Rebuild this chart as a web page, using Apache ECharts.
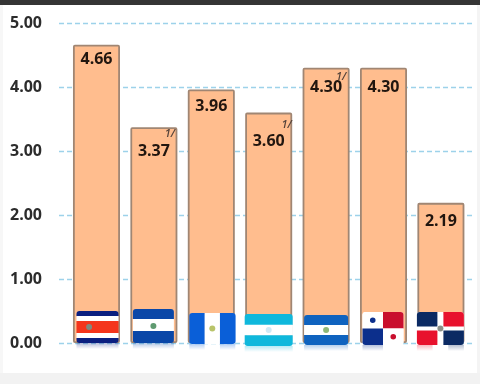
<!DOCTYPE html>
<html><head><meta charset="utf-8">
<style>
html,body{margin:0;padding:0;width:480px;height:384px;overflow:hidden;background:#fff}
#frameTop{position:absolute;left:0;top:0;width:480px;height:5px;background:#353535;z-index:3}
#frameBottom{position:absolute;left:0;top:373px;width:480px;height:11px;background:#f2f2f2;z-index:3}
#frameRight{position:absolute;left:477px;top:5px;width:3px;height:368px;background:#f4f4f4;z-index:3}
#frameLeft{position:absolute;left:0;top:5px;width:3px;height:368px;background:#f7f7f7;z-index:3}
#c{position:absolute;left:0;top:0;width:480px;height:384px;filter:blur(0.7px)}
</style>
<script src="https://cdn.jsdelivr.net/npm/echarts@6/dist/echarts.min.js"></script>
</head><body>
<div id="c"></div><div id="frameTop"></div><div id="frameBottom"></div><div id="frameRight"></div><div id="frameLeft"></div>
<script>
const countries = ['Costa Rica','El Salvador','Guatemala','Honduras','Nicaragua','Panamá','República Dominicana'];
const rates = [4.66,3.37,3.96,3.60,4.30,4.30,2.19];
const footnotes = ['','1/','','1/','1/','',''];
const yTicks = [0,1,2,3,4,5];

// label drop below the bar top, px
const labelDrop = [7,16,9,21,12,12,11];
// footnote offset from the bar top centre, px: [dx, dy]
const noteOffset = [[0,0],[16,7],[0,0],[18,12],[15,9],[0,0],[0,0]];
// flag geometry in px: [left offset from bar centre, width, top above baseline, bottom below baseline]
const flagBox = [[-20,42,32,0],[-21,41,34,0],[-22,46,30,1],[-24,48,29,3],[-22,44,28,2],[-21,41,31,2],[-24,47,31,2]];
const NAVY='#0b1f80',RED='#f4351c',BLUE='#0a47a8',ROY='#0a5fd8',CY='#0fb8dc',NB='#0f63bf',PB='#0c2f8c',PR='#c90f2e',DB='#0b2a63',DR='#e8112d',W='#ffffff';
const flags = [
 {h:[[NAVY,5],[W,5],[RED,12],[W,5],[NAVY,5]],e:'#7f8a7f',ex:0.3},
 {h:[[BLUE,10],[W,12],[BLUE,12]],e:'#5f9a70',ex:0.5},
 {v:[[ROY,1],[W,1],[ROY,1]],e:'#b9c46a',ex:0.5},
 {h:[[CY,1],[W,1],[CY,1]],e:'#cfe9f5',ex:0.5},
 {h:[[NB,1],[W,1],[NB,1]],e:'#8fb878',ex:0.5},
 {q:[W,PR,PB,W],s:[PB,PR]},
 {q:[DB,DR,DR,DB],cross:true,e:'#8a8f88',ex:0.5}
];

function rect(x,y,w,h,fill,r){return {type:'rect',shape:{x:x,y:y,width:w,height:h,r:r||0},style:{fill:fill}};}
const R=3;
function fade(c){return {type:'linear',x:0,y:0,x2:0,y2:1,colorStops:[{offset:0,color:c},{offset:1,color:'#ffffff'}]};}

function renderFlag(params,api){
  const i=api.value(0), base=api.coord([i,0]), b=flagBox[i], f=flags[i];
  const L=base[0]+b[0], W0=b[1], T=base[1]-b[2], H=b[2]+b[3];
  const kids=[];
  let bottomCols;
  if(f.h){
    const tot=f.h.reduce((a,s)=>a+s[1],0); let y=T;
    f.h.forEach((s,k)=>{
      const hh=H*s[1]/tot;
      const r=k===0?[R,R,0,0]:(k===f.h.length-1?[0,0,R,R]:0);
      kids.push(rect(L,y,W0,hh+(k===f.h.length-1?0:.3),s[0],r)); y+=hh;
    });
    bottomCols=[f.h[f.h.length-1][0]];
  } else if(f.v){
    const w=W0/3;
    f.v.forEach((s,k)=>kids.push(rect(L+k*w,T,w+.3,H,s[0],k===0?[R,0,0,R]:(k===2?[0,R,R,0]:0))));
    bottomCols=f.v.map(s=>s[0]);
  } else {
    const w=W0/2,hh=H/2;
    kids.push(rect(L,T,W0,H,W,R));
    if(f.cross){
      const g=3;
      kids.push(rect(L,T,w-g,hh-2,f.q[0],[R,0,0,0]),rect(L+w+g,T,w-g,hh-2,f.q[1],[0,R,0,0]),
                rect(L,T+hh+2,w-g,hh-2,f.q[2],[0,0,0,R]),rect(L+w+g,T+hh+2,w-g,hh-2,f.q[3],[0,0,R,0]));
      bottomCols=[f.q[2],W,f.q[3]];
    } else {
      const rs=[[R,0,0,0],[0,R,0,0],[0,0,0,R],[0,0,R,0]];
      f.q.forEach((c,k)=>kids.push(rect(L+(k%2)*w,T+(k>>1)*hh,w,hh,c,rs[k])));
      kids.push({type:'circle',shape:{cx:L+w/2,cy:T+hh/2,r:2.8},style:{fill:f.s[0]}});
      kids.push({type:'circle',shape:{cx:L+w*1.5,cy:T+hh*1.5,r:2.8},style:{fill:f.s[1]}});
      bottomCols=[f.q[2],f.q[3]];
    }
  }
  if(f.e){kids.push({type:'circle',shape:{cx:L+W0*f.ex,cy:T+H/2,r:3},style:{fill:f.e}});}
  // soft reflection under the flag
  const rw=W0/bottomCols.length;
  bottomCols.forEach((c,k)=>{
    if(c===W) return;
    const m=rect(L+k*rw,T+H,rw,6,fade(c));
    m.style.opacity=.3;
    kids.push(m);
  });
  return {type:'group',children:kids};
}

function renderNote(params,api){
  const i=api.value(0), p=api.coord([i,api.value(1)]);
  return {type:'text',style:{x:p[0]+noteOffset[i][0],y:p[1]+noteOffset[i][1],text:footnotes[i],fill:'#55433a',font:'italic 600 11px "Open Sans"',align:'center',verticalAlign:'middle'}};
}

const chart=echarts.init(document.getElementById('c'),null,{renderer:'canvas'});
chart.setOption({
  animation:false,
  backgroundColor:'#fff',
  grid:{left:59,right:5,top:23,bottom:41},
  xAxis:{type:'value',min:-0.653,max:6.594,show:false,splitLine:{show:false}},
  yAxis:{type:'value',min:yTicks[0],max:yTicks[yTicks.length-1],interval:1,
    axisLine:{show:false},axisTick:{show:false},
    axisLabel:{margin:17,formatter:v=>v.toFixed(2),color:'#2c2c2c',fontFamily:'Open Sans',fontWeight:700,fontSize:16},
    splitLine:{show:true,lineStyle:{color:'#9dd2ea',type:[5,3],width:1.3}}},
  series:[
    {type:'bar',barWidth:47,z:2,
     data:rates.map((v,i)=>({name:countries[i],value:[i,v],label:{distance:labelDrop[i]}})),
     itemStyle:{color:'#ffbd8e',borderColor:'#a08673',borderWidth:1.8,borderRadius:1},
     label:{show:true,position:'insideTop',formatter:p=>p.value[1].toFixed(2),color:'#21160f',
       fontFamily:'Open Sans',fontWeight:700,fontSize:16}},
    {type:'custom',z:4,renderItem:renderFlag,clip:false,data:rates.map((v,i)=>[i,v]),encode:{x:0,y:1}},
    {type:'custom',z:5,renderItem:renderNote,clip:false,
     data:rates.map((v,i)=>[i,v]).filter(d=>footnotes[d[0]]),encode:{x:0,y:1}}
  ]
});
</script>
</body></html>
